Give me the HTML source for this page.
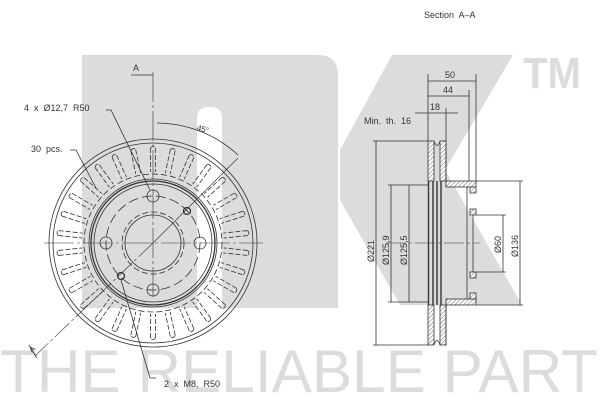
<!DOCTYPE html>
<html><head><meta charset="utf-8"><style>
html,body{margin:0;padding:0;background:#fff;}
svg{display:block;font-family:"Liberation Sans",sans-serif;}
text{white-space:pre;}
</style></head><body>
<svg width="600" height="400" viewBox="0 0 600 400" xmlns="http://www.w3.org/2000/svg" xml:space="preserve">
<defs>
<pattern id="h" width="3" height="3" patternUnits="userSpaceOnUse" patternTransform="rotate(45)">
<rect width="3" height="3" fill="#fff"/><line x1="0" y1="0" x2="0" y2="3" stroke="#444" stroke-width="0.8"/></pattern>
</defs>
<g fill="#dcdcdc">
<path d="M82 55 H318 Q338 55 338 75 V308 H222 V117 Q222 107 210 107 Q197 107 197 117 V308 H82 Z"/>
<polygon points="392,55 513,55 445,170 522,305 400,305 340,200 340,150"/>
<text x="523" y="88" font-size="44" font-weight="bold" textLength="58" lengthAdjust="spacingAndGlyphs">TM</text>
<text x="0" y="392" font-size="60" textLength="598" lengthAdjust="spacingAndGlyphs">THE RELIABLE PART</text>
</g>
<g fill="none" stroke="#333" stroke-width="0.8">
<circle cx="153" cy="243" r="104"/>
<circle cx="153" cy="243" r="100"/>
<circle cx="153" cy="243" r="64"/>
<circle cx="153" cy="243" r="62" stroke-width="1.3"/>
<circle cx="153" cy="243" r="59"/>
<circle cx="153" cy="243" r="69" stroke-dasharray="6,3"/>
<circle cx="153" cy="243" r="47" stroke-dasharray="10,4"/>
<circle cx="153" cy="243" r="31" stroke-dasharray="6,3"/>
<circle cx="153" cy="243" r="28"/>
<circle cx="153" cy="196" r="6"/><circle cx="153" cy="290" r="6"/>
<circle cx="106" cy="243" r="6"/><circle cx="200" cy="243" r="6"/>
<circle cx="187" cy="211" r="3.5" stroke-width="1.3"/><circle cx="121" cy="276" r="3.5" stroke-width="1.3"/>
<g stroke-dasharray="5,2">
<g id="v"><path d="M150.5 148 V172 M155.5 148 V172 M150.5 148 Q153 145 155.5 148"/></g>
<use href="#v" transform="rotate(12 153 243)"/><use href="#v" transform="rotate(24 153 243)"/><use href="#v" transform="rotate(36 153 243)"/><use href="#v" transform="rotate(48 153 243)"/><use href="#v" transform="rotate(60 153 243)"/><use href="#v" transform="rotate(72 153 243)"/><use href="#v" transform="rotate(84 153 243)"/><use href="#v" transform="rotate(96 153 243)"/><use href="#v" transform="rotate(108 153 243)"/><use href="#v" transform="rotate(120 153 243)"/><use href="#v" transform="rotate(132 153 243)"/><use href="#v" transform="rotate(144 153 243)"/><use href="#v" transform="rotate(156 153 243)"/><use href="#v" transform="rotate(168 153 243)"/><use href="#v" transform="rotate(180 153 243)"/><use href="#v" transform="rotate(192 153 243)"/><use href="#v" transform="rotate(204 153 243)"/><use href="#v" transform="rotate(216 153 243)"/><use href="#v" transform="rotate(228 153 243)"/><use href="#v" transform="rotate(240 153 243)"/><use href="#v" transform="rotate(252 153 243)"/><use href="#v" transform="rotate(264 153 243)"/><use href="#v" transform="rotate(276 153 243)"/><use href="#v" transform="rotate(288 153 243)"/><use href="#v" transform="rotate(300 153 243)"/><use href="#v" transform="rotate(312 153 243)"/><use href="#v" transform="rotate(324 153 243)"/><use href="#v" transform="rotate(336 153 243)"/><use href="#v" transform="rotate(348 153 243)"/>
</g>
<path d="M44 243 H263" stroke-width="0.6" stroke-dasharray="30,3,3,3"/>
<path d="M153 72 V300" stroke-width="0.6" stroke-dasharray="30,3,3,3"/>
<path d="M153 243 L35 356" stroke-width="0.6" stroke-dasharray="20,3,3,3"/>
<path d="M153 243 L238 158" stroke-width="0.6"/>
<path d="M131 75 H153 M29 345 L37 358"/>
<path d="M157 123 A120 120 0 0 1 238 155"/>
<path d="M106 110 H111 L150 190"/>
<path d="M70 150 H76 L96 188"/>
<path d="M156 378 L150 378 L121 280"/>
<rect x="428" y="141" width="6" height="40" fill="url(#h)"/>
<rect x="440" y="141" width="6" height="40" fill="url(#h)"/>
<rect x="428" y="305" width="6" height="40" fill="url(#h)"/>
<rect x="440" y="305" width="6" height="40" fill="url(#h)"/>
<path d="M434 141 Q437 150 440 141 M434 345 Q437 336 440 345"/>
<rect x="446" y="181" width="30" height="6" fill="url(#h)"/>
<rect x="446" y="299" width="30" height="6" fill="url(#h)"/>
<rect x="470" y="187" width="6" height="6" fill="url(#h)"/>
<rect x="470" y="209" width="6" height="6" fill="url(#h)"/>
<rect x="470" y="272" width="6" height="6" fill="url(#h)"/>
<rect x="470" y="293" width="6" height="6" fill="url(#h)"/>
<path d="M473 215 V272" />
<path d="M428.5 181 V305 M433 181 V305 M437 181 V305 M441 181 V305" stroke-width="1.4"/>
<path d="M467 187 V299 M446 141 V181 M446 305 V345"/>
<path d="M386 243 H480" stroke-width="0.5" stroke-dasharray="20,3,3,3"/>
<path d="M428 141 H373 M428 345 H373 M376 141 V345"/>
<path d="M428 185 H388 M428 302 H388 M391 185 V302 M409 185 V302"/>
<path d="M476 181 H523 M476 305 H523 M520 181 V305"/>
<path d="M476 215 H506 M476 272 H506 M503 215 V272"/>
<path d="M428 141 V74 M476 181 V74 M469 181 V90 M446 141 V108"/>
<path d="M428 81 H476 M428 96 H469 M415 113 H458"/>
</g>
<g fill="#333" font-size="9">
<text x="424" y="18">Section  A–A</text>
<text x="133" y="71">A</text>
<text x="197" y="131" font-size="8" transform="rotate(15 200 128)">45°</text>
<text x="24" y="111">4  x  Ø12,7  R50</text>
<text x="31" y="152">30  pcs.</text>
<text x="164" y="387">2  x  M8,  R50</text>
<text x="30" y="352" font-size="8" transform="rotate(-45 32 350)">A</text>
<text x="445" y="78">50</text>
<text x="443" y="93">44</text>
<text x="430" y="110">18</text>
<text x="364" y="124">Min.  th.  16</text>
<text transform="translate(374 262) rotate(-90)">Ø221</text>
<text transform="translate(389 265) rotate(-90)">Ø125,9</text>
<text transform="translate(407 265) rotate(-90)">Ø125,5</text>
<text transform="translate(501 253) rotate(-90)">Ø60</text>
<text transform="translate(518 257) rotate(-90)">Ø136</text>
</g>
</svg>
</body></html>
